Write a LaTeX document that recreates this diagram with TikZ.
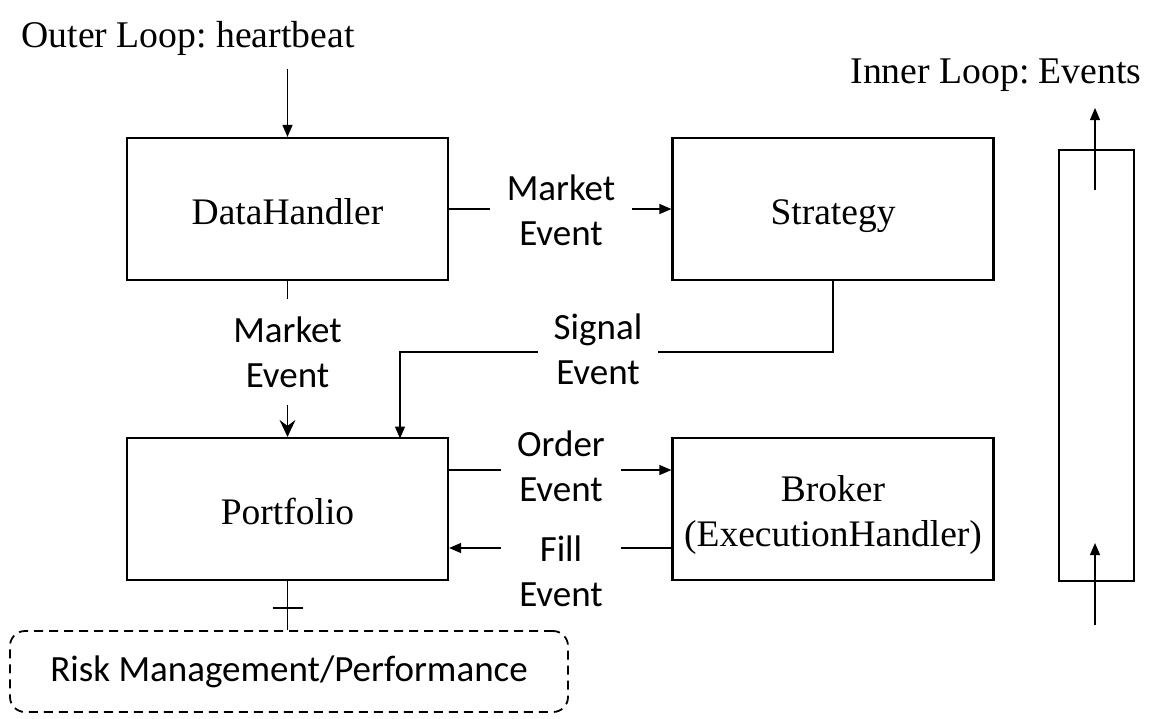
\documentclass[tikz,border=0pt]{standalone}
\usepackage{fontspec}
\setmainfont{Liberation Serif}
\newfontfamily\calfont{Carlito}
\usetikzlibrary{arrows.meta}
\frenchspacing
\begin{document}
\begin{tikzpicture}[x=1pt,y=-1pt,
  box/.style={draw,line width=2.2pt,minimum width=321pt,minimum height=142pt,inner sep=0pt,align=center,text height=30pt,text depth=0pt,font=\fontsize{37.5}{45}\selectfont},
  evlabel/.style={fill=white,inner sep=0pt,minimum width=120pt,align=center,font=\calfont\fontsize{37}{45}\selectfont},
  conn/.style={line width=1.2pt},
  arr/.style={conn,-{Triangle[length=12pt,width=10pt]}},
  bigarr/.style={conn,-{Stealth[length=17pt,width=16pt,inset=6pt]}},
  title/.style={inner sep=0pt,font=\fontsize{37.7}{45}\selectfont}
]
\path[use as bounding box] (0,0) rectangle (1169,718);

\node[box] (dh) at (287.5,209) {DataHandler};
\node[box] (st) at (833,209) {Strategy};
\node[box] (pf) at (287.5,509) {Portfolio};
\node[box,text height=75pt] (br) at (833,509) {Broker\\(ExecutionHandler)};
\node[draw,line width=2.2pt,minimum width=75pt,minimum height=431pt,inner sep=0pt] (inner) at (1096.5,365.5) {};
\node[draw,dashed,dash pattern=on 9pt off 6pt,line width=1.8pt,rounded corners=15pt,minimum width=558pt,minimum height=81pt,inner sep=0pt,font=\calfont\fontsize{37}{45}\selectfont] (risk) at (289,671.5) {Risk Management/Performance};

\node[title] (outer) at (188,38) {Outer Loop: heartbeat};
\node[title] (innerlbl) at (996,75) {Inner Loop: Events};

% outer loop arrow
\draw[arr] (outer.south -| dh.north) ++(0,14) coordinate (o1) -- (dh.north);

% DataHandler -> Strategy
\draw[arr] (dh.east) -- (st.west);
\node[evlabel,minimum width=142pt] (l1) at (561,210) {Market\\Event};

% DataHandler -> Portfolio
\draw[bigarr] (dh.south) -- (pf.north);
\node[evlabel,minimum height=106pt,minimum width=110pt] (l2) at (287.5,352) {Market\\Event};

% Strategy -> Portfolio
\draw[arr] (st.south) |- (400,352) -- (400,438.5);
\node[evlabel] (l3) at (598,349) {Signal\\Event};

% Portfolio -> Broker
\draw[arr] (pf.east |- 0,470) -- (br.west |- 0,470);
\node[evlabel] (l4) at (561,466) {Order\\Event};

% Broker -> Portfolio
\draw[arr] (br.west |- 0,548) -- (pf.east |- 0,548);
\node[evlabel] (l5) at (561,571) {Fill\\Event};

% Portfolio -> Risk
\draw[conn] (pf.south) -- (risk.north -| pf.south);
\coordinate (tick) at (287.5,608);
\draw[conn] ([xshift=-15pt]tick) -- ([xshift=15pt]tick);

% inner loop arrows
\coordinate (i1) at (1095,190);
\coordinate (i2) at (1095,108);
\draw[arr] (i1) -- (i2);
\coordinate (i3) at (1095,625);
\coordinate (i4) at (1095,543);
\draw[arr] (i3) -- (i4);
\end{tikzpicture}
\end{document}
